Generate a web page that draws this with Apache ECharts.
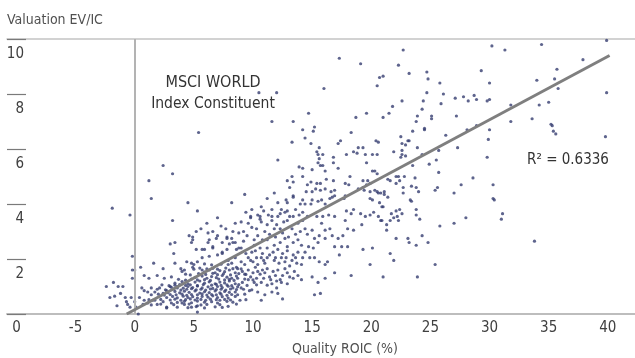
<!DOCTYPE html>
<html>
<head>
<meta charset="utf-8">
<script src="https://cdn.jsdelivr.net/npm/echarts@6/dist/echarts.min.js"></script>
<style>
  html, body { margin: 0; padding: 0; background: #fff; }
  #chart { width: 635px; height: 358px; }
</style>
</head>
<body>
<div id="chart"></div>
<script>
const FONT = "'Liberation Sans Narrow', 'DejaVu Sans Condensed', sans-serif";

// x tick values and the labels printed under them (the first one reads "0" in the source)
const xTicks = [-10, -5, 0, 5, 10, 15, 20, 25, 30, 35, 40];
const xTickLabels = ['0', '-5', '0', '5', '10', '15', '20', '25', '30', '35', '40'];
const yTicks = [2, 4, 6, 8, 10];

// [ROIC %, EV/IC] per index constituent
const constituents = [
  // top right, sparse
  [22.7,9.6],[30.2,9.75],[31.3,9.6],[34.4,9.8],[39.9,9.95],[22.3,9.05],[21.0,8.65],[20.7,8.6],[23.2,8.75],[24.7,8.8],
  [24.8,8.55],[25.8,8.4],[29.3,8.85],[30.0,8.4],[34.0,8.5],[35.7,8.9],[35.5,8.55],[35.8,8.2],[37.9,9.25],[39.9,8.05],
  [24.7,8.05],[26.1,8.0],[24.4,7.75],[22.6,7.75],[21.8,7.55],[21.5,7.3],[21.0,7.15],[25.9,7.65],[27.1,7.85],[27.8,7.9],
  [28.2,7.75],[28.7,7.95],[28.9,7.8],[29.8,7.75],[30.0,7.8],[24.3,7.45],[31.8,7.6],[34.2,7.6],[35.0,7.7],[27.2,7.2],
  [25.1,7.2],[25.1,7.1],[23.9,7.2],[23.8,7.0],[24.5,6.7],[24.5,6.75],[23.5,6.65],[31.8,7.0],[33.6,7.1],[35.2,6.9],
  [35.3,6.85],[35.4,6.65],[35.6,6.55],[28.1,6.7],[28.9,6.85],[26.3,6.5],[22.5,6.45],[23.2,6.3],[23.1,6.3],[22.9,6.15],
  [22.6,6.2],[30.0,6.7],[29.9,6.35],[39.8,6.45],[23.9,6.05],[22.6,5.95],[22.6,5.8],[22.9,5.75],[22.5,5.7],[27.3,6.05],
  [25.7,5.95],[24.3,5.8],[21.9,5.9],[25.5,5.6],[24.9,5.45],[23.5,5.4],[29.8,5.7],[25.7,5.15],[22.1,5.0],[22.8,5.0],
  [23.7,4.95],[28.6,4.95],
  // right, below the line
  [20.8,4.4],[21.1,4.35],[21.1,4.45],[21.4,4.25],[20.7,4.05],[21.0,3.9],[22.7,4.4],[22.7,4.6],[23.4,4.65],[23.8,4.6],
  [24.0,4.45],[23.3,4.15],[23.4,4.1],[25.4,4.5],[25.6,4.6],[27.0,4.4],[27.6,4.7],[30.3,4.7],[30.3,4.2],[30.4,4.15],
  [20.8,3.4],[21.3,3.25],[21.3,3.05],[21.7,3.65],[21.9,3.5],[21.6,3.4],[22.1,3.75],[22.4,3.8],[22.2,3.55],[22.6,3.65],
  [22.3,3.4],[23.8,3.8],[23.8,3.6],[24.1,3.45],[22.1,2.75],[23.1,2.75],[23.2,2.6],[23.8,2.5],[24.3,2.85],[24.8,2.6],
  [25.8,3.2],[27.0,3.3],[28.0,3.5],[31.1,3.65],[31.0,3.45],[33.8,2.65],[21.6,2.2],[21.9,1.95],[25.4,1.8],[21.0,1.35],
  [23.9,1.35],[21.4,4.9],[21.6,4.85],[22.1,4.75],[22.3,5.0],[22.4,4.85],[15.7,0.75],
  // upper middle
  [17.3,9.3],[19.1,9.1],[20.5,8.3],[16.0,8.2],[14.7,7.3],[19.6,7.3],[10.5,8.05],[12.0,8.05],[11.6,7.0],[13.4,7.0],
  [14.2,6.7],[15.1,6.65],[15.2,6.8],[18.7,7.15],[18.3,6.6],[5.4,6.6],[13.3,6.25],[14.4,6.4],[14.9,6.2],[15.6,6.05],
  [17.2,6.2],[17.4,6.3],[18.9,6.05],[19.3,6.05],[20.4,6.3],[20.6,6.25],
  // middle band
  [12.1,5.6],[15.4,5.9],[15.5,5.8],[15.9,5.8],[15.6,5.65],[15.5,5.5],[15.7,5.4],[15.9,5.4],[16.1,5.2],[16.8,5.7],
  [16.8,5.5],[17.9,5.8],[18.5,5.9],[18.8,5.85],[19.5,5.8],[20.1,5.8],[20.5,5.8],[19.6,5.5],[13.9,5.35],[14.2,5.3],
  [15.0,5.25],[16.2,4.9],[17.2,5.3],[18.2,5.0],[20.1,5.2],[20.3,5.2],[20.5,5.1],[12.9,4.85],[13.3,5.0],[13.4,4.8],
  [14.2,5.0],[14.6,4.7],[14.9,4.8],[15.4,4.75],[15.7,4.75],[16.8,4.85],[17.8,4.75],[18.1,4.7],[19.3,4.85],[19.7,4.85],
  [19.9,4.75],[13.1,4.6],[14.5,4.45],[15.0,4.45],[15.3,4.55],[15.7,4.5],[16.1,4.55],[16.6,4.45],[16.9,4.5],[11.8,4.4],
  [9.3,4.35],[11.2,4.2],[12.1,4.05],[12.8,4.15],[12.9,4.05],[13.4,4.3],[13.4,4.25],[14.2,4.15],[14.0,4.0],[14.4,4.0],
  [15.0,4.15],[14.9,4.0],[15.5,4.1],[15.8,4.15],[16.1,4.0],[16.7,4.25],[16.5,4.2],[16.9,4.3],[17.8,4.3],[17.7,4.2],
  [18.9,4.55],[19.3,4.6],[19.4,4.5],[19.6,4.7],[19.9,4.45],[20.3,4.5],[20.5,4.45],[19.9,4.2],[20.1,4.15],[20.6,4.4],
  [9.9,3.8],[10.7,3.9],[10.9,3.75],[10.6,3.55],[9.8,3.55],[11.6,3.8],[11.6,3.55],[12.1,3.55],[12.4,3.8],[12.3,3.65],
  [12.7,3.7],[13.1,3.55],[13.4,3.55],[13.9,3.6],[14.2,3.7],[14.6,3.55],[15.4,3.55],[15.9,3.55],[16.4,3.6],[16.9,3.55],
  [17.9,3.75],[18.3,3.65],[18.5,3.8],[19.1,3.65],[19.5,3.55],[19.9,3.6],[20.2,3.7],[20.6,3.55],[20.9,3.9],
  // around the line, 9 to 21
  [9.0,3.35],[9.2,3.0],[9.5,2.85],[9.0,2.4],[9.2,2.65],[9.8,3.5],[9.9,3.15],[10.3,3.1],[10.4,2.85],[10.6,3.45],
  [10.7,3.35],[11.0,3.0],[11.2,3.25],[11.6,3.4],[11.8,3.1],[12.0,3.25],[12.3,3.1],[12.6,3.35],[12.9,3.4],[13.3,3.1],
  [13.8,3.3],[14.2,3.4],[8.8,2.95],[14.4,3.1],[15.0,3.05],[15.8,3.3],[16.1,3.05],[16.5,3.1],[17.8,3.4],[18.0,3.1],
  [18.5,3.05],[19.2,3.25],[20.9,3.4],[15.6,2.85],[16.1,2.75],[16.7,2.85],[17.2,2.75],[17.6,2.85],[18.0,2.45],[19.3,2.35],
  [20.1,2.4],[15.2,2.75],[15.5,2.6],[14.7,2.45],[15.1,2.4],[14.4,2.25],[14.8,2.05],[15.2,2.05],[15.6,1.9],[16.1,1.8],
  [16.3,1.9],[16.9,2.45],[17.3,2.15],[17.5,2.45],[19.9,1.8],[16.9,1.5],[18.3,1.4],[16.1,1.3],
  [11.2,2.7],[11.8,2.5],[12.3,2.6],[12.7,2.75],[12.9,2.45],[13.4,2.6],[13.8,2.7],[14.1,2.5],
  [11.2,2.4],[11.7,2.25],[12.1,2.35],[12.5,2.2],[12.9,2.3],[13.4,2.15],[13.8,2.25],[14.2,2.05],[11.2,2.05],[11.8,1.95],
  [12.4,2.05],[12.7,1.9],[13.3,1.95],[13.7,1.85],[14.1,1.8],[10.1,2.5],[10.6,2.4],[10.8,2.2],[9.9,2.25],[10.3,2.05],
  [10.7,2.05],[9.6,2.05],[10.0,1.9],[10.4,1.8],[11.0,1.85],[9.0,1.9],[9.3,1.8],[8.7,1.65],[9.1,1.55],[9.6,1.6],
  [10.0,1.5],[10.4,1.55],[10.8,1.6],[11.2,1.65],[11.7,1.55],[12.1,1.6],[12.5,1.4],[12.9,1.5],[13.4,1.3],[13.8,1.4],
  [8.7,1.3],[9.1,1.15],[9.6,1.25],[10.1,1.15],[10.7,1.15],[11.2,1.05],[11.6,1.1],[12.0,0.95],[12.4,1.15],[12.9,1.1],
  [9.0,0.95],[9.7,0.85],[10.4,0.8],[11.0,0.7],[11.6,0.8],[12.1,0.75],[12.5,0.55],[8.9,0.5],[10.7,0.5],
  [14.1,1.25],[15.0,1.35],[15.5,1.15],[15.2,0.7],
  [9.4,2.2],[9.8,1.95],[10.2,2.3],[10.9,1.95],[11.4,2.15],[11.9,2.05],[12.2,1.85],[12.8,2.05],[13.1,1.75],[13.6,2.05],
  [10.2,1.7],[10.6,1.45],[11.0,1.5],[11.4,1.35],[11.9,1.4],[12.3,1.25],[12.7,1.65],[13.1,1.35],[13.5,1.55],[9.3,1.45],
  [9.8,1.35],[10.3,1.3],[10.9,1.3],[11.5,1.25],[12.0,1.2],
  [9.6,3.3],[10.1,2.7],[10.8,2.7],[11.4,2.9],[11.9,2.8],[12.5,2.95],[13.0,2.8],[13.6,2.9],[14.0,3.0],[14.6,2.9],
  [10.4,3.6],[11.3,3.6],[12.9,3.75],[13.6,3.8],
  // left of zero and the dense core, 0 to 9
  [-0.2,2.1],[-0.2,1.6],[-0.2,1.3],[-2.4,1.0],[-1.8,1.15],[-1.4,1.0],[-1.0,1.0],[-2.1,0.6],[-1.7,0.65],[-1.5,0.3],
  [-1.2,0.75],[-0.8,0.6],[-0.7,0.45],[-0.6,0.35],[-0.4,0.25],[-0.3,0.6],[0.0,0.45],[0.1,0.25],[0.3,0.0],
  [0.5,1.7],[0.8,1.4],[1.2,1.3],[1.6,1.85],[1.9,1.4],[2.4,1.65],[3.0,2.55],[3.3,2.2],
  [0.6,0.95],[0.8,0.85],[1.1,0.8],[1.4,0.95],[1.7,0.8],[2.1,0.95],[2.4,0.75],[2.7,0.85],[3.0,1.0],[3.4,1.05],[3.6,0.95],
  [0.4,0.6],[0.8,0.5],[1.1,0.4],[1.5,0.5],[1.9,0.35],[2.4,0.45],[2.7,0.25],[3.1,0.4],[3.6,0.25],[4.0,0.4],
  [4.2,0.35],[4.8,0.25],[5.3,0.3],
  [3.4,2.6],[4.8,2.6],[4.9,2.8],[5.2,2.35],[5.9,2.35],[6.2,2.6],[6.6,2.4],[6.9,2.75],[7.4,2.6],[7.8,2.8],[8.2,2.75],
  [8.5,2.6],[8.8,2.4],[2.5,1.3],[3.1,1.35],[4.0,1.55],[4.4,1.9],[3.4,1.85],[4.9,1.7],[5.7,1.6],[5.3,1.9],
  [5.9,1.52],[6.3,1.6],[6.8,1.5],[7.2,1.58],[7.6,1.54],[8.0,1.6],[8.5,1.5],
  [5.1,1.33],[5.7,1.38],[6.1,1.3],[6.5,1.36],[6.9,1.32],[7.4,1.4],[7.8,1.34],[8.2,1.3],[8.6,1.38],
  [3.4,1.12],[4.0,1.18],[4.5,1.1],[5.1,1.16],[5.5,1.2],[5.9,1.12],[6.3,1.17],[6.8,1.1],[7.2,1.16],[7.6,1.13],[8.0,1.2],[8.5,1.1],
  [3.1,0.97],[3.6,1.0],[4.1,0.94],[4.5,1.0],[4.9,0.96],[5.3,1.02],[5.7,0.95],[6.2,0.99],[6.6,0.93],[7.0,1.0],[7.4,0.96],
  [7.9,1.01],[8.3,0.95],[8.7,0.99],
  [2.8,0.78],[3.4,0.82],[3.8,0.77],[4.2,0.83],[4.6,0.79],[5.1,0.84],[5.5,0.76],[5.9,0.81],[6.3,0.78],[6.8,0.84],[7.2,0.77],
  [7.6,0.82],[8.0,0.79],[8.5,0.8],
  [2.7,0.6],[3.2,0.64],[3.6,0.59],[4.1,0.65],[4.5,0.6],[4.9,0.63],[5.3,0.58],[5.7,0.64],[6.2,0.61],[6.6,0.66],[7.0,0.6],
  [7.4,0.63],[7.9,0.58],[8.5,0.64],
  [3.6,0.42],[4.2,0.46],[4.8,0.41],[5.3,0.47],[5.9,0.43],[6.5,0.45],[7.0,0.4],[7.8,0.46],[8.3,0.43],
  [4.5,0.23],[5.2,0.27],[5.9,0.22],[6.8,0.26],[7.4,0.24],[7.9,0.28],[5.3,0.07],[2.7,0.22],
  [6.3,2.1],[7.0,2.15],[7.4,2.25],[7.8,2.35],[7.9,1.95],[8.2,1.85],[8.5,2.05],[8.6,1.7],[8.3,2.6],[5.7,2.05],[4.2,1.6],[4.8,1.85],
  // dense core, second pass
  [4.3,1.45],[4.7,1.42],[5.4,1.47],[6.0,1.44],[6.6,1.48],[7.0,1.43],[7.5,1.46],[8.1,1.42],[8.8,1.47],[9.4,1.44],
  [3.7,1.26],[4.3,1.23],[4.8,1.27],[5.3,1.24],[5.9,1.25],[6.4,1.22],[7.1,1.27],[7.6,1.24],[8.0,1.26],[8.4,1.22],[9.3,1.27],[10.0,1.24],
  [2.3,1.06],[2.9,1.03],[3.8,1.07],[4.3,1.04],[4.7,1.06],[5.3,1.03],[5.8,1.07],[6.5,1.05],[6.9,1.08],[7.3,1.04],[7.8,1.06],
  [8.2,1.03],[8.8,1.07],[9.5,1.04],[10.3,1.06],
  [1.9,0.9],[2.6,0.88],[3.3,0.91],[3.9,0.87],[4.4,0.9],[4.8,0.92],[5.2,0.88],[5.6,0.9],[6.0,0.87],[6.4,0.91],[6.9,0.89],
  [7.3,0.9],[7.7,0.87],[8.1,0.91],[8.6,0.89],[9.2,0.9],[9.9,0.88],
  [1.4,0.7],[2.0,0.72],[2.5,0.69],[3.0,0.71],[3.5,0.7],[4.0,0.72],[4.4,0.68],[4.8,0.71],[5.3,0.7],[5.7,0.73],[6.1,0.69],
  [6.5,0.71],[6.9,0.7],[7.3,0.72],[7.8,0.68],[8.2,0.71],[8.7,0.7],[9.3,0.72],
  [1.2,0.52],[1.7,0.5],[2.2,0.53],[3.0,0.51],[3.4,0.54],[3.9,0.5],[4.3,0.52],[4.7,0.55],[5.1,0.51],[5.6,0.53],[6.0,0.5],
  [6.4,0.54],[6.9,0.52],[7.2,0.5],[7.6,0.53],[8.1,0.51],[9.4,0.52],
  [0.7,0.35],[1.4,0.33],[2.2,0.36],[3.3,0.34],[4.6,0.36],[5.6,0.33],[6.1,0.35],[7.2,0.34],[8.6,0.36],
  [3.9,1.65],[5.0,1.63],[5.5,1.67],[6.1,1.64],[6.6,1.66],[7.0,1.63],[7.7,1.67],[8.3,1.65],[9.0,1.64],
  [5.0,1.8],[5.9,1.82],[6.5,1.79],[7.3,1.81],[7.9,1.8],
  [5.6,3.1],[6.1,3.3],[6.6,3.0],[7.3,3.2],[7.7,3.1],[8.5,3.3],[6.2,2.95],[9.4,3.7],
  // scattered outliers at the left
  [-1.9,3.85],[-0.4,3.6],[1.2,4.85],[1.4,4.2],[2.4,5.4],[3.2,5.1],[3.2,3.4],[4.5,4.05],[5.3,3.75],[7.0,3.5],[8.2,4.05],
  [0.0,1.6],[5.2,3.0],[4.6,2.85],[4.9,2.7],[5.7,2.35],[6.3,2.7],[6.6,2.45],[7.0,2.85],[7.4,2.2],[7.8,2.75],[8.0,2.55],
  [8.3,3.0],[8.6,2.35]
];

// least-squares trend line endpoints as drawn
const trendLine = [[-0.68, 0], [40.15, 9.4]];
const rSquaredText = 'R\u00b2 = 0.6336';

const chart = echarts.init(document.getElementById('chart'));

const option = {
  animation: false,
  backgroundColor: '#fff',
  textStyle: { fontFamily: FONT },
  grid: { left: 7, right: 0, top: 39, bottom: 44, containLabel: false },
  xAxis: [
    {
      type: 'value',
      min: -10.8,
      max: 42.3,
      axisLine: { show: true, lineStyle: { color: '#bdbdbd', width: 2 } },
      axisTick: { show: false },
      splitLine: { show: false },
      axisLabel: {
        customValues: xTicks,
        formatter: (v) => xTickLabels[xTicks.indexOf(v)],
        color: '#404040',
        fontSize: 15,
        fontFamily: FONT,
        margin: 7
      }
    },
    {
      type: 'value',
      position: 'top',
      min: -10.8,
      max: 42.3,
      axisLine: { show: true, lineStyle: { color: '#c4c4c4', width: 1.5 } },
      axisTick: { show: false },
      axisLabel: { show: false },
      splitLine: { show: false }
    }
  ],
  yAxis: {
    type: 'value',
    min: 0,
    max: 10,
    interval: 2,
    // invisible axis line kept at the left edge so the short inner ticks are drawn there
    axisLine: { show: true, onZero: false, lineStyle: { color: 'rgba(0,0,0,0)' } },
    splitLine: { show: false },
    axisTick: { show: true, inside: true, length: 19, lineStyle: { color: '#7a7a7a', width: 1.2 } },
    axisLabel: {
      inside: true,
      align: 'right',
      verticalAlign: 'top',
      margin: 17,
      padding: [8, 0, 0, 0],
      color: '#404040',
      fontSize: 15,
      fontFamily: FONT,
      formatter: (v) => (yTicks.indexOf(v) >= 0 ? String(v) : '')
    }
  },
  series: [
    {
      type: 'scatter',
      data: constituents,
      symbolSize: 3.2,
      itemStyle: { color: '#363d70' },
      silent: true,
      markLine: {
        silent: true,
        symbol: 'none',
        label: { show: false },
        lineStyle: { color: '#b3b3b3', width: 2, type: 'solid' },
        data: [{ xAxis: 0 }]
      }
    },
    {
      type: 'line',
      data: trendLine,
      showSymbol: false,
      silent: true,
      z: 5,
      lineStyle: { color: '#7f7f7f', width: 3 }
    }
  ],
  graphic: [
    { type: 'text', left: 7, top: 13, style: { text: 'Valuation EV/IC', fontSize: 14, fontFamily: FONT, fill: '#505050' } },
    { type: 'text', left: 292, top: 342, style: { text: 'Quality ROIC (%)', fontSize: 14, fontFamily: FONT, fill: '#505050' } },
    { type: 'text', style: { x: 213, y: 83, text: 'MSCI WORLD', textAlign: 'center', textVerticalAlign: 'middle', fontSize: 16, fontFamily: FONT, fill: '#333' } },
    { type: 'text', style: { x: 213, y: 104, text: 'Index Constituent', textAlign: 'center', textVerticalAlign: 'middle', fontSize: 15.5, fontFamily: FONT, fill: '#333' } },
    { type: 'text', style: { x: 568, y: 160, text: rSquaredText, textAlign: 'center', textVerticalAlign: 'middle', fontSize: 15, fontFamily: FONT, fill: '#333' } }
  ]
};

chart.setOption(option);
</script>
</body>
</html>
